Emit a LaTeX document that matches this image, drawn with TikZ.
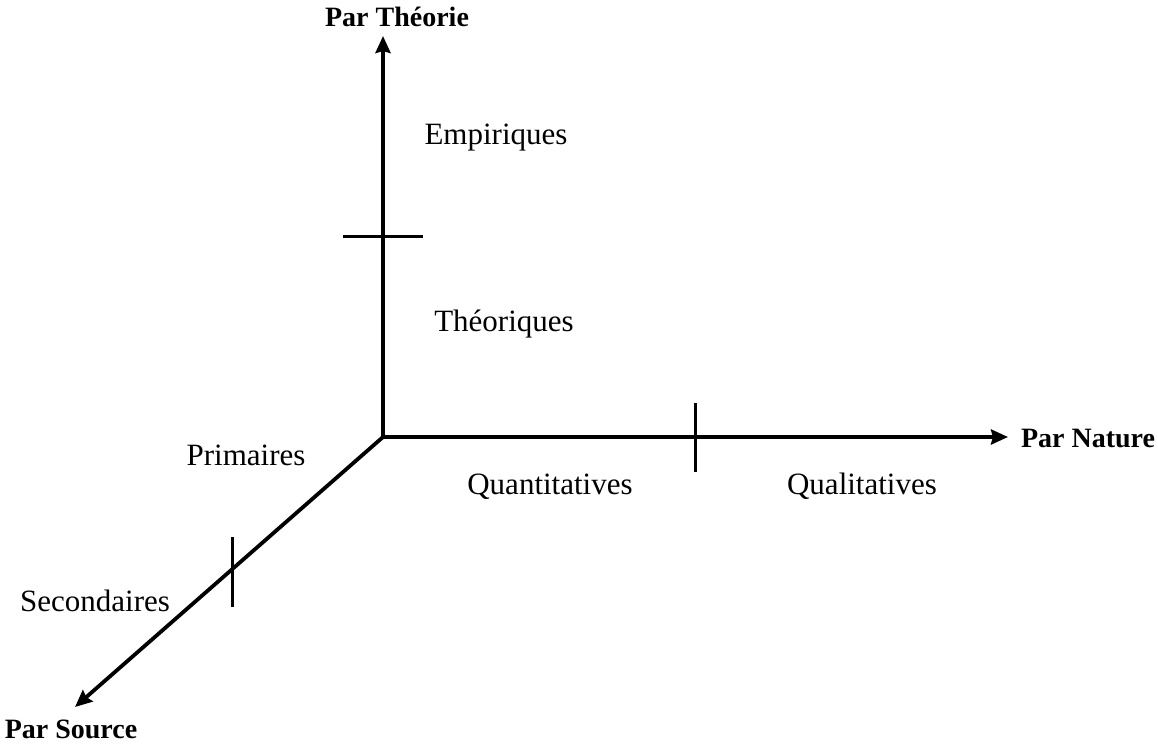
\documentclass[tikz,border=0pt]{standalone}
\usepackage{fontspec}
\setmainfont{Liberation Serif}
\usetikzlibrary{arrows.meta}
\begin{document}
\begin{tikzpicture}[x=1pt,y=-1pt,
  axis/.style={line width=3.8pt,-{Stealth[length=17pt,width=15pt,inset=2pt]}},
  tick/.style={line width=3pt},
  lab/.style={inner sep=0pt,anchor=base,font=\fontsize{31}{36}\selectfont},
  title/.style={inner sep=0pt,anchor=base,font=\fontsize{28}{33}\selectfont\bfseries}]
\useasboundingbox (0,0) rectangle (1158,751);
\coordinate (O) at (383,437);
\coordinate (T) at (383,36);
\coordinate (N) at (1008,437);
\coordinate (S) at (75,707);
\draw[axis,shorten <=-1.5pt] (O) -- (T);
\draw[axis,shorten <=-1.5pt] (O) -- (N);
\draw[axis] (O) -- (S);
% ticks
\coordinate (t1a) at (343,237); \coordinate (t1b) at (423,237);
\coordinate (t2a) at (695,403); \coordinate (t2b) at (695,472);
\coordinate (t3a) at (232,537); \coordinate (t3b) at (232,607);
\draw[tick] (t1a) -- (t1b);
\draw[tick] (t2a) -- (t2b);
\draw[tick] (t3a) -- (t3b);
% labels
\node[title] (pt) at (397,27) {Par Théorie};
\node[title] (pn) at (1088,447) {Par Nature};
\node[title] (ps) at (71,738) {Par Source};
\node[lab] (emp) at (496,145) {Empiriques};
\node[lab] (theo) at (504,331) {Théoriques};
\node[lab] (quan) at (550,494) {Quantitatives};
\node[lab] (qual) at (862,494) {Qualitatives};
\node[lab] (prim) at (246,465) {Primaires};
\node[lab] (sec) at (95,611) {Secondaires};
\end{tikzpicture}
\end{document}
